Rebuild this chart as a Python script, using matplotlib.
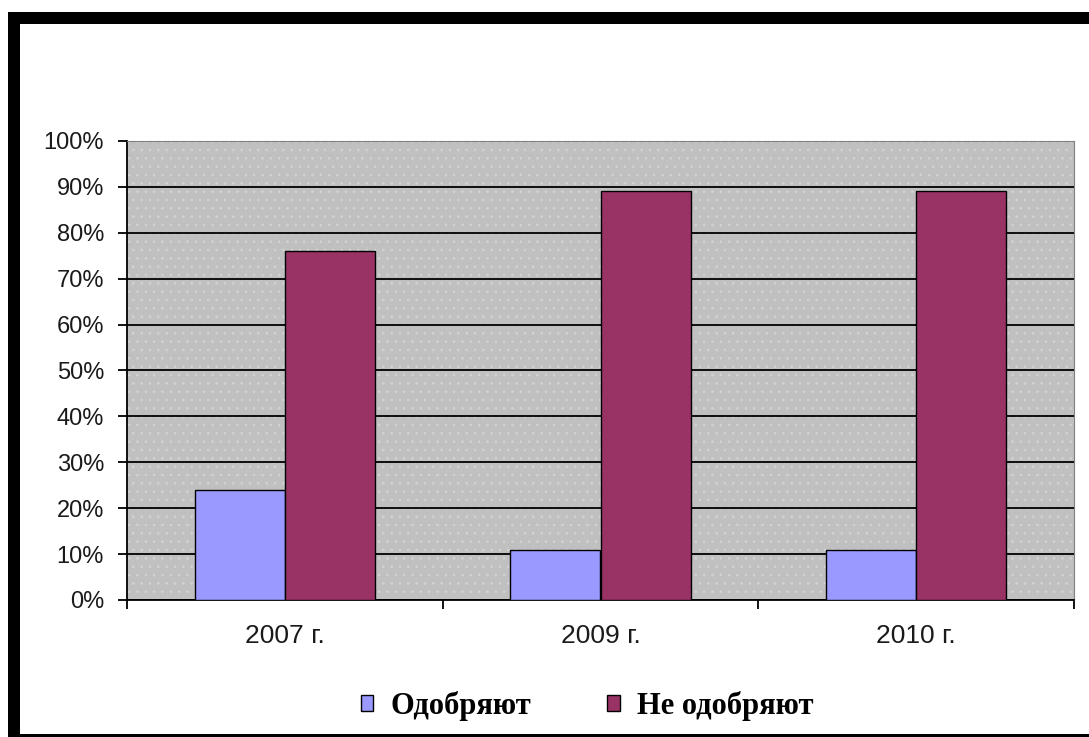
import numpy as np
import matplotlib.pyplot as plt
from matplotlib.patches import Rectangle

# данные с диаграммы
years = ['2007 г.', '2009 г.', '2010 г.']
approve = [24, 11, 11]
disapprove = [76, 89, 89]
series_names = ['Одобряют', 'Не одобряют']

plt.rcParams['hatch.color'] = '#d4d4d4'
plt.rcParams['hatch.linewidth'] = 0.6

fig = plt.figure(figsize=(10.89, 7.37), dpi=100)
W, H = 1089, 737

# черная рамка картинки (слева, сверху, снизу)
def px_rect(x0, y0, x1, y1, color='black'):
    fig.add_artist(Rectangle((x0 / W, 1 - y1 / H), (x1 - x0) / W, (y1 - y0) / H,
                             transform=fig.transFigure, color=color, lw=0, zorder=10))

px_rect(8, 12, W, 24)
px_rect(8, 12, 20, H)
px_rect(8, 734, W, H)

ax = fig.add_axes([127 / W, 1 - 600 / H, (1074 - 127) / W, (600 - 141) / H])
ax.set_facecolor('#c0c0c0')
ax.add_patch(Rectangle((0, 0), 1, 1, transform=ax.transAxes, facecolor='none',
                       hatch='..', edgecolor='#d4d4d4', lw=0, zorder=0))

x = np.arange(len(years))
width = 1 / 3.5
ax.bar(x - width / 2, approve, width, color='#9999ff', edgecolor='black', lw=1,
       label=series_names[0], zorder=3)
ax.bar(x + width / 2, disapprove, width, color='#993366', edgecolor='black', lw=1,
       label=series_names[1], zorder=3)

ax.set_xlim(-0.5, len(years) - 0.5)
ax.set_ylim(0, 100)
ax.set_yticks(np.arange(0, 101, 10))
ax.set_yticklabels([f'{v}%' for v in range(0, 101, 10)], family='Liberation Sans',
                   fontsize=17, color='#1a1a1a')
ax.yaxis.grid(True, color='black', lw=1.3, zorder=1)
ax.set_axisbelow(True)

ax.set_xticks(x)
ax.set_xticklabels(years, family='Liberation Sans', fontsize=19, color='#1a1a1a')
ax.tick_params(axis='x', length=0, pad=17)
ax.set_xticks(np.arange(-0.5, len(years)), minor=True)
ax.tick_params(axis='x', which='minor', length=6.5, width=1.3, direction='out')
ax.tick_params(axis='y', length=6.5, width=1.3, direction='out', pad=10)

ax.spines['left'].set_linewidth(1.3)
ax.spines['bottom'].set_linewidth(1.3)
ax.spines['top'].set_color('#808080')
ax.spines['right'].set_color('#808080')

leg = fig.legend(loc='center', bbox_to_anchor=(0.539, 1 - 706 / H), ncol=2, frameon=False,
                 prop={'family': 'Liberation Serif', 'weight': 'bold', 'size': 22},
                 handlelength=0.42, handleheight=0.42, columnspacing=2.5, handletextpad=0.55)

fig.savefig('out.png', dpi=100)
